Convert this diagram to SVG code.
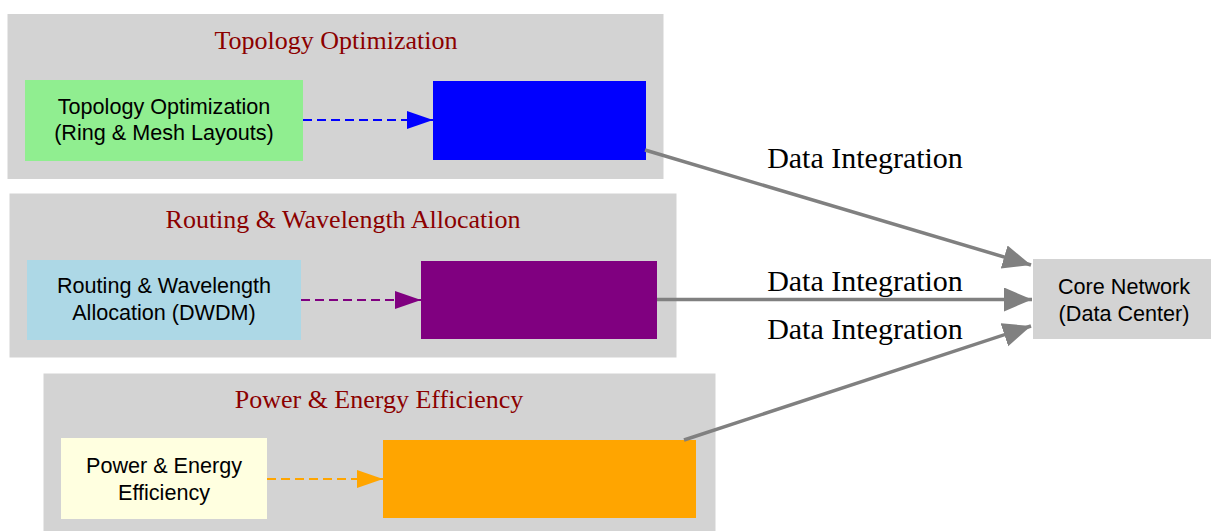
<svg xmlns="http://www.w3.org/2000/svg" width="1211" height="531" viewBox="0 0 1211 531">
  <defs>
    <style>
      .cluster { fill: #d3d3d3; stroke: #d3d3d3; stroke-width: 1; }
      .ctitle { font-family: "Liberation Serif", "Times New Roman", serif; font-size: 26px; fill: #8b0000; text-anchor: middle; }
      .ntext { font-family: "Liberation Sans", Arial, sans-serif; font-size: 21.6px; fill: #000000; text-anchor: middle; }
      .elabel { font-family: "Liberation Serif", "Times New Roman", serif; font-size: 30px; fill: #000000; text-anchor: middle; }
      .main { stroke: #808080; stroke-width: 3.5; fill: none; }
      .dash { stroke-width: 2; fill: none; stroke-dasharray: 9 5; }
    </style>
    <marker id="ahGray" markerUnits="userSpaceOnUse" markerWidth="30" markerHeight="26" refX="28" refY="12" orient="auto">
      <path d="M0,0 L28,12 L0,24 Z" fill="#808080"/>
    </marker>
    <marker id="ahBlue" markerUnits="userSpaceOnUse" markerWidth="28" markerHeight="20" refX="26" refY="9" orient="auto">
      <path d="M0,0 L26,9 L0,18 Z" fill="#0000ff"/>
    </marker>
    <marker id="ahPurple" markerUnits="userSpaceOnUse" markerWidth="28" markerHeight="20" refX="26" refY="9" orient="auto">
      <path d="M0,0 L26,9 L0,18 Z" fill="#800080"/>
    </marker>
    <marker id="ahOrange" markerUnits="userSpaceOnUse" markerWidth="28" markerHeight="20" refX="26" refY="9" orient="auto">
      <path d="M0,0 L26,9 L0,18 Z" fill="#ffa500"/>
    </marker>
  </defs>
  <rect width="1211" height="531" fill="#ffffff"/>

  <g id="cluster_topology">
    <rect class="cluster" x="8" y="14.5" width="655" height="164"/>
    <text class="ctitle" x="336" y="49">Topology Optimization</text>
  </g>
  <g id="cluster_routing">
    <rect class="cluster" x="10" y="194" width="666" height="163"/>
    <text class="ctitle" x="343" y="228">Routing &amp; Wavelength Allocation</text>
  </g>
  <g id="cluster_power">
    <rect class="cluster" x="44" y="374" width="671" height="160"/>
    <text class="ctitle" x="379" y="408">Power &amp; Energy Efficiency</text>
  </g>

  <g id="node_topology">
    <rect x="25" y="80" width="278" height="81" fill="#90ee90"/>
    <text class="ntext" x="164" y="113.5">Topology Optimization</text>
    <text class="ntext" x="164" y="140">(Ring &amp; Mesh Layouts)</text>
  </g>
  <g id="node_topology_box">
    <rect x="433" y="81" width="213" height="79" fill="#0000ff"/>
  </g>
  <g id="node_routing">
    <rect x="27" y="260" width="274" height="80" fill="#add8e6"/>
    <text class="ntext" x="164" y="293">Routing &amp; Wavelength</text>
    <text class="ntext" x="164" y="320">Allocation (DWDM)</text>
  </g>
  <g id="node_routing_box">
    <rect x="421" y="261" width="236" height="78" fill="#800080"/>
  </g>
  <g id="node_power">
    <rect x="61" y="438" width="206" height="81" fill="#ffffe0"/>
    <text class="ntext" x="164" y="473">Power &amp; Energy</text>
    <text class="ntext" x="164" y="500">Efficiency</text>
  </g>
  <g id="node_power_box">
    <rect x="383" y="440" width="313" height="78" fill="#ffa500"/>
  </g>
  <g id="node_core">
    <rect x="1033" y="259" width="178" height="80" fill="#d3d3d3"/>
    <text class="ntext" x="1124" y="294">Core Network</text>
    <text class="ntext" x="1124" y="321">(Data Center)</text>
  </g>

  <g id="connectors">
    <line class="dash" x1="303" y1="120" x2="433" y2="120" stroke="#0000ff" marker-end="url(#ahBlue)"/>
    <line class="dash" x1="301" y1="300" x2="421" y2="300" stroke="#800080" marker-end="url(#ahPurple)"/>
    <line class="dash" x1="267" y1="479" x2="383" y2="479" stroke="#ffa500" marker-end="url(#ahOrange)"/>

    <line class="main" x1="645" y1="150" x2="1031" y2="265" marker-end="url(#ahGray)"/>
    <line class="main" x1="657" y1="299.5" x2="1032" y2="299.5" marker-end="url(#ahGray)"/>
    <line class="main" x1="684" y1="440" x2="1031" y2="326" marker-end="url(#ahGray)"/>

    <text class="elabel" x="865" y="168">Data Integration</text>
    <text class="elabel" x="865" y="291">Data Integration</text>
    <text class="elabel" x="865" y="339">Data Integration</text>
  </g>
</svg>
